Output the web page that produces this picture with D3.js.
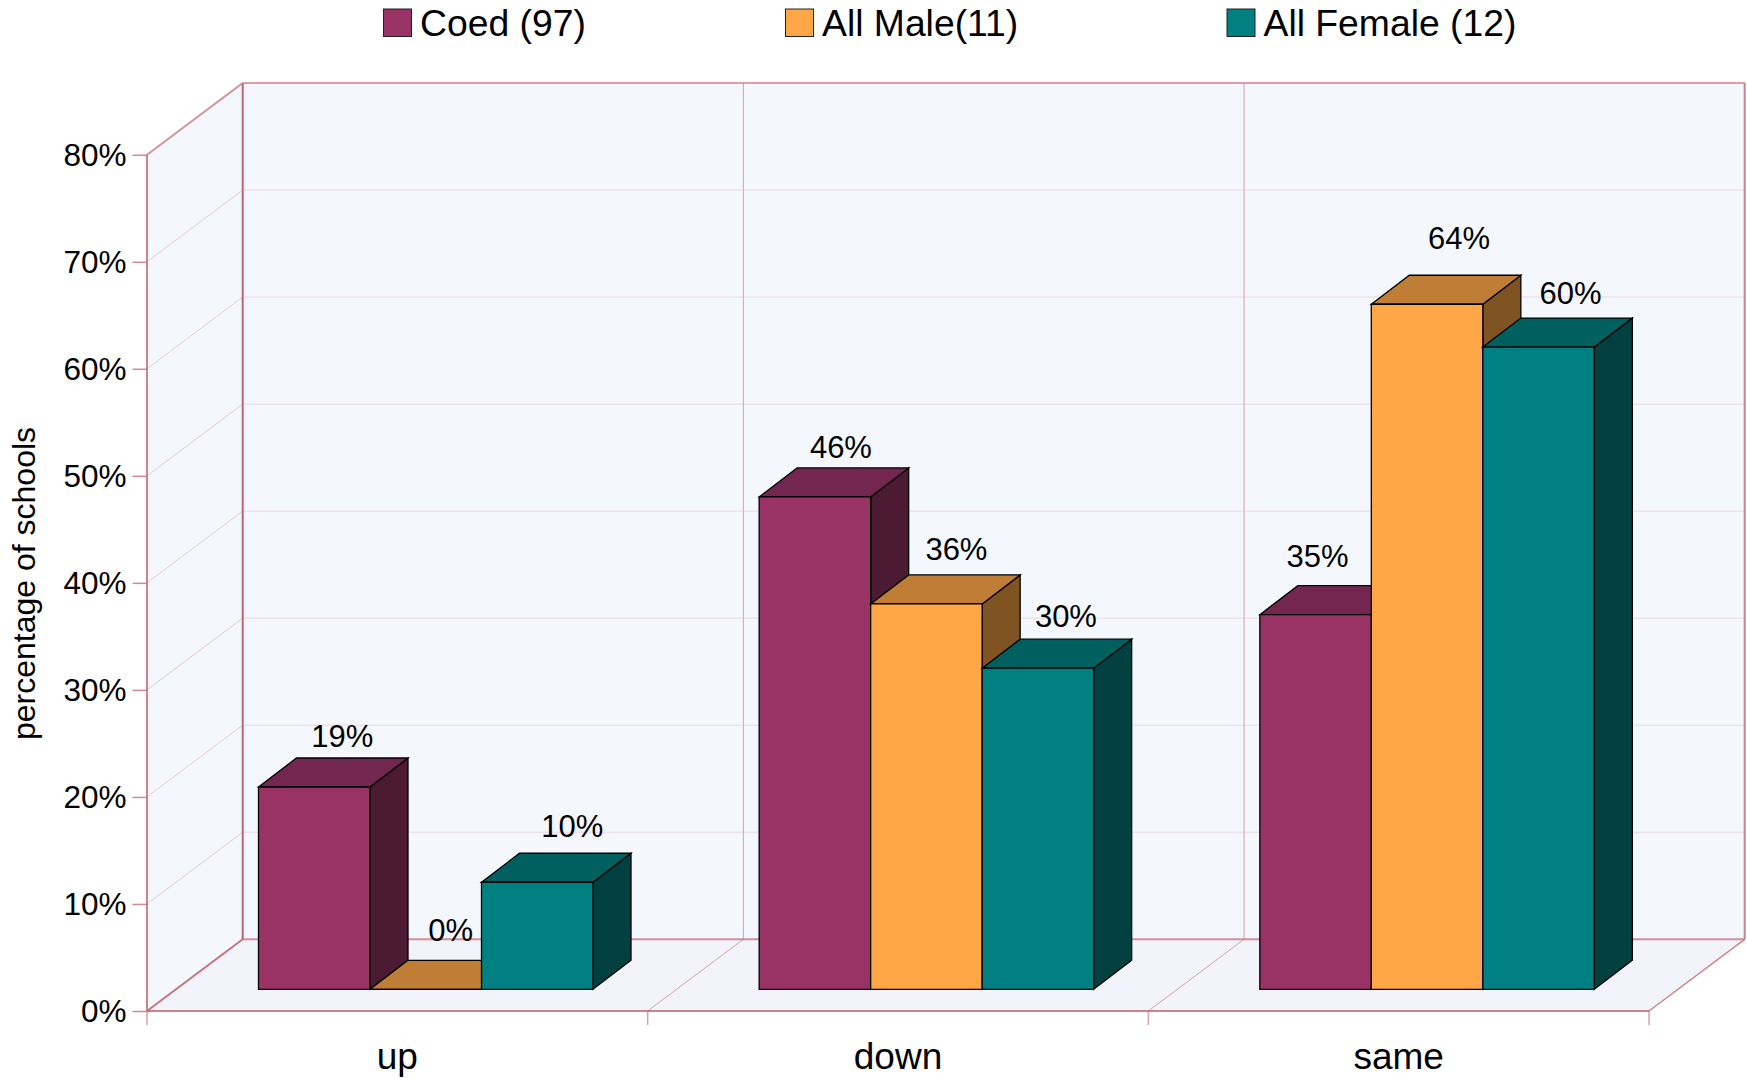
<!DOCTYPE html>
<html><head><meta charset="utf-8">
<script src="https://cdn.jsdelivr.net/npm/d3@7"></script>
<style>html,body{margin:0;background:#fff}svg{display:block}text{font-family:"Liberation Sans",Arial,sans-serif;fill:#000}.domain{display:none}</style>
</head><body><svg id="c" width="1747" height="1078"></svg>
<script>
const categories = ["up","down","same"];
const seriesNames = ["Coed (97)","All Male(11)","All Female (12)"];
const coed = [18.9,46,35];
const allMale = [0,36,64];
const allFemale = [10,30,60];
const yTicks = [0,10,20,30,40,50,60,70,80];
const seriesValues = [coed, allMale, allFemale];

// styling / layout
const colors = [["#993366","#732650","#4d1a33"],["#ffa646","#bf7d35","#805323"],["#008080","#006060","#004040"]];
const labelNudge = [[[28,51],[25,59],[35,56]],[[26,50],[30,55],[28,52]],[[2,59],[32,66],[32,54]]];
const legendX = [383.5,785.5,1227], legendTextGap = 36.5;
const L=147,R=1649,T=154.7,B=1011,DX=95.7,DY=71.7;
const barDX=38,barDY=29,offX=29,offY=21.7;
const axisCol="#c0666e";

const svg=d3.select("#c");
const x=d3.scaleBand().domain(categories).range([L,R]);
const xs=d3.scaleBand().domain(d3.range(3)).range([82.5,417]);
const y=d3.scaleLinear().domain([0,80]).range([B,T]);
const poly=(g,pts,fill,stroke,sw,op)=>g.append("polygon").attr("points",pts.map(p=>p.join(",")).join(" ")).attr("fill",fill).attr("stroke",stroke||"none").attr("stroke-width",sw||0).attr("stroke-linejoin","miter").attr("stroke-opacity",op==null?1:op);
const line=(g,a,b,c,w,op)=>g.append("line").attr("x1",a[0]).attr("y1",a[1]).attr("x2",b[0]).attr("y2",b[1]).attr("stroke",c).attr("stroke-width",w).attr("stroke-opacity",op==null?1:op);

const wall=svg.append("g");
const yTop=y(80),y0=y(0);
poly(wall,[[L+DX,yTop-DY],[R+DX,yTop-DY],[R+DX,y0-DY],[L+DX,y0-DY]],"#f4f7fe");
poly(wall,[[L,yTop],[L+DX,yTop-DY],[L+DX,y0-DY],[L,y0]],"#f4f7fe");
poly(wall,[[L,y0],[L+DX,y0-DY],[R+DX,y0-DY],[R,y0]],"#f2f3fb");

// grid
yTicks.filter(v=>v>0&&v<80).forEach(v=>{
  line(wall,[L,y(v)],[L+DX,y(v)-DY],"#e6ccd6",1);
  line(wall,[L+DX,y(v)-DY],[R+DX,y(v)-DY],"#ead8e2",1);
});
categories.slice(1).forEach(c=>{
  const px=x(c);
  line(wall,[px,y0],[px+DX,y0-DY],"#d9a0a6",1);
  line(wall,[px+DX,y0-DY],[px+DX,yTop-DY],"#d9a0a6",1);
});
// frame
line(wall,[L,yTop],[L+DX,yTop-DY],axisCol,2,.7);
line(wall,[L+DX,yTop-DY],[R+DX,yTop-DY],axisCol,2,.6);
line(wall,[L+DX,yTop-DY],[L+DX,y0-DY],axisCol,2,1);
line(wall,[L,yTop],[L,y0],axisCol,2,.8);
line(wall,[R+DX,yTop-DY],[R+DX,y0-DY],axisCol,2,.8);
line(wall,[L+DX,y0-DY],[R+DX,y0-DY],axisCol,2,.7);
line(wall,[L,y0],[L+DX,y0-DY],axisCol,2,.9);
line(wall,[R,y0],[R+DX,y0-DY],axisCol,1.5,.8);
line(wall,[L,y0],[R,y0],axisCol,2,.8);

// axes
const yAxis=svg.append("g").attr("transform",`translate(${L},0)`)
  .call(d3.axisLeft(y).tickValues(yTicks).tickSize(14.5).tickPadding(6).tickFormat(d=>d+"%"));
yAxis.selectAll(".tick line").attr("stroke",axisCol).attr("stroke-width",1.5).attr("stroke-opacity",.75);
yAxis.selectAll("text").style("font-size","31.5px").attr("fill","#000").attr("dy","0.33em");
const xAxisTicks=svg.append("g");
categories.concat(["_end"]).forEach((c,i)=>{
  const px=L+i*x.bandwidth();
  line(xAxisTicks,[px,y0],[px,y0+14],axisCol,1.5,.6);
});
const xLabels=svg.append("g").selectAll("text").data(categories).join("text")
  .attr("x",d=>x(d)+x.bandwidth()/2).attr("y",1068.5).attr("text-anchor","middle").style("font-size","37px").text(d=>d);

svg.append("text").attr("transform","translate(35,583.5) rotate(-90)").attr("text-anchor","middle").style("font-size","32px").text("percentage of schools");

// bars
const bars=svg.append("g");
categories.forEach((c,ci)=>{
  seriesValues.forEach((vals,si)=>{
    const v=vals[ci];
    const x0=x(c)+xs(si)+offX, x1=x0+xs.bandwidth();
    const yb=y(0)-offY, yt=y(v)-offY;
    const g=bars.append("g");
    const col=colors[si];
    poly(g,[[x1,yt],[x1+barDX,yt-barDY],[x1+barDX,yb-barDY],[x1,yb]],col[2],"#000",1.3);
    poly(g,[[x0,yt],[x0+barDX,yt-barDY],[x1+barDX,yt-barDY],[x1,yt]],col[1],"#000",1.3);
    if(v>0) poly(g,[[x0,yt],[x1,yt],[x1,yb],[x0,yb]],col[0],"#000",1.3);
    else line(g,[x0,yb],[x1,yb],"#000",1.3);
  });
});
// labels
const labels=svg.append("g");
categories.forEach((c,ci)=>{
  seriesValues.forEach((vals,si)=>{
    const v=vals[ci], n=labelNudge[ci][si];
    labels.append("text").attr("x",x(c)+xs(si)+offX+xs.bandwidth()/2+n[0])
      .attr("y",y(v)-offY-n[1]).attr("dy","0.36em").attr("text-anchor","middle").style("font-size","31px").text(Math.round(v)+"%");
  });
});
// legend
const lg=svg.append("g");
seriesNames.forEach((s,i)=>{
  lg.append("rect").attr("x",legendX[i]).attr("y",9).attr("width",28).attr("height",27.5).attr("fill",colors[i][0]).attr("stroke","#222").attr("stroke-width",1);
  lg.append("text").attr("x",legendX[i]+legendTextGap).attr("y",35.5).style("font-size","37.3px").text(s);
});
</script></body></html>
